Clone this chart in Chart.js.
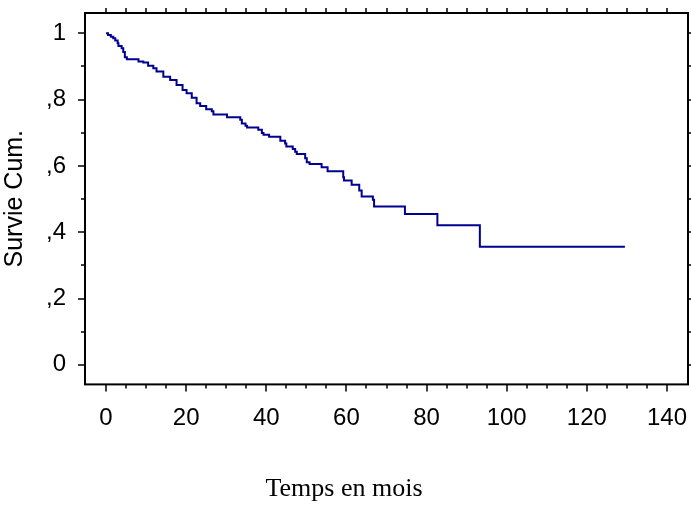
<!DOCTYPE html>
<html>
<head>
<meta charset="utf-8">
<script src="https://cdn.jsdelivr.net/npm/chart.js@4"></script>
<style>
  body { margin: 0; background: #fff; }
</style>
</head>
<body>
<canvas id="survivalChart" width="691" height="507"></canvas>
<script>
  // courbe de survie cumulée (Kaplan-Meier)
  const months = [0, 0.5, 1.2, 1.8, 2.3, 2.9, 3.1, 3.9, 4.3, 4.7, 5.2, 8.1, 9.3, 10.5, 11.8, 12.6,
    14.3, 16, 17.6, 19.1, 20.1, 21.4, 22.6, 23.5, 25.0, 26.4, 26.8, 30.2, 33.5, 33.9, 34.8, 35.2,
    38.0, 38.9, 39.3, 40.7, 43.5, 44.7, 45.0, 46.6, 47.2, 47.6, 49.7, 50.1, 50.8, 53.8, 55.3,
    59.2, 59.4, 61.3, 63.2, 63.8, 66.6, 66.9, 74.6, 82.7, 93.3, 129.5];
  const survival = [1, 0.995, 0.99, 0.985, 0.978, 0.97, 0.962, 0.955, 0.944, 0.928, 0.922, 0.915, 0.912, 0.902, 0.895, 0.885,
    0.869, 0.859, 0.844, 0.829, 0.819, 0.806, 0.789, 0.781, 0.771, 0.765, 0.755, 0.747, 0.739, 0.728, 0.721, 0.716,
    0.709, 0.699, 0.694, 0.688, 0.676, 0.668, 0.659, 0.651, 0.643, 0.636, 0.623, 0.611, 0.606, 0.596, 0.584,
    0.566, 0.556, 0.543, 0.526, 0.508, 0.498, 0.478, 0.455, 0.421, 0.356, 0.356];

  const xTicks = [0, 20, 40, 60, 80, 100, 120, 140];
  const yTicks = [0, 0.2, 0.4, 0.6, 0.8, 1];
  const yTickLabels = ['0', ',2', ',4', ',6', ',8', '1'];
  const xMinorStep = 5;
  const yMinorStep = 0.1;

  const sans = "'Liberation Sans', Arial, sans-serif";
  const serif = "'Liberation Serif', 'Times New Roman', serif";

  // cadre + graduations (majeures / mineures) sur les 4 côtés
  const framePlugin = {
    id: 'frame',
    afterDraw(chart) {
      const { ctx, chartArea: a } = chart;
      const x = chart.scales.x, y = chart.scales.y;
      ctx.save();
      ctx.strokeStyle = '#000';
      ctx.lineWidth = 1.5;
      ctx.beginPath();
      const nx = Math.round((xTicks[xTicks.length - 1] - xTicks[0]) / xMinorStep);
      for (let i = 0; i <= nx; i++) {
        const v = xTicks[0] + i * xMinorStep;
        const px = Math.round(x.getPixelForValue(v));
        const major = xTicks.some(t => Math.abs(t - v) < 1e-6);
        ctx.moveTo(px, a.bottom);
        ctx.lineTo(px, a.bottom + (major ? 7 : 4));
        ctx.moveTo(px, a.top);
        ctx.lineTo(px, a.top - 5);
      }
      const ny = Math.round((yTicks[yTicks.length - 1] - yTicks[0]) / yMinorStep);
      for (let i = 0; i <= ny; i++) {
        const v = yTicks[0] + i * yMinorStep;
        const py = Math.round(y.getPixelForValue(v));
        const major = yTicks.some(t => Math.abs(t - v) < 1e-6);
        ctx.moveTo(a.left, py);
        ctx.lineTo(a.left - (major ? 7 : 4), py);
        ctx.moveTo(a.right, py);
        ctx.lineTo(a.right + 4, py);
      }
      ctx.stroke();
      ctx.lineWidth = 2;
      ctx.strokeRect(a.left, a.top, a.right - a.left, a.bottom - a.top);
      ctx.restore();
    }
  };

  const ctx = document.getElementById('survivalChart');

  new Chart(ctx, {
    type: 'line',
    data: {
      labels: months,
      datasets: [{
        label: 'Survie Cum.',
        data: months.map((m, i) => ({ x: m, y: survival[i] })),
        borderColor: '#000090',
        borderWidth: 2,
        pointRadius: 0,
        stepped: 'before',
        fill: false,
      }]
    },
    options: {
      responsive: false,
      animation: false,
      devicePixelRatio: 1,
      layout: { padding: { top: 13, right: 3, left: 0, bottom: 0 } },
      plugins: {
        legend: { display: false },
        tooltip: { enabled: false },
        title: {
          display: true,
          text: 'Temps en mois',
          position: 'bottom',
          color: '#000',
          font: { family: serif, size: 26, weight: 'normal', lineHeight: 1.2 },
          padding: { top: 0, bottom: 2 }
        }
      },
      scales: {
        x: {
          type: 'linear',
          min: -5.25,
          max: 145.25,
          // tickLength sert d'espace entre le cadre et les étiquettes
          grid: { display: false, tickLength: 22 },
          border: { display: false },
          afterBuildTicks: s => { s.ticks = xTicks.map(v => ({ value: v })); },
          afterFit: s => { s.height = 89.4; },
          ticks: {
            autoSkip: false,
            maxRotation: 0,
            padding: 0,
            color: '#000',
            font: { family: sans, size: 24, lineHeight: 1 }
          }
        },
        y: {
          min: -0.0589,
          max: 1.0613,
          grid: { display: false, tickLength: 19 },
          border: { display: false },
          afterBuildTicks: s => { s.ticks = yTicks.map(v => ({ value: v })); },
          afterFit: s => { s.width = 85; },
          ticks: {
            autoSkip: false,
            padding: 0,
            color: '#000',
            font: { family: sans, size: 24, lineHeight: 1 },
            callback: v => yTickLabels[yTicks.indexOf(v)]
          },
          title: {
            display: true,
            text: 'Survie Cum.',
            color: '#000',
            font: { family: sans, size: 25 },
            padding: { top: 0, bottom: 0 }
          }
        }
      }
    },
    plugins: [framePlugin]
  });
</script>
</body>
</html>
